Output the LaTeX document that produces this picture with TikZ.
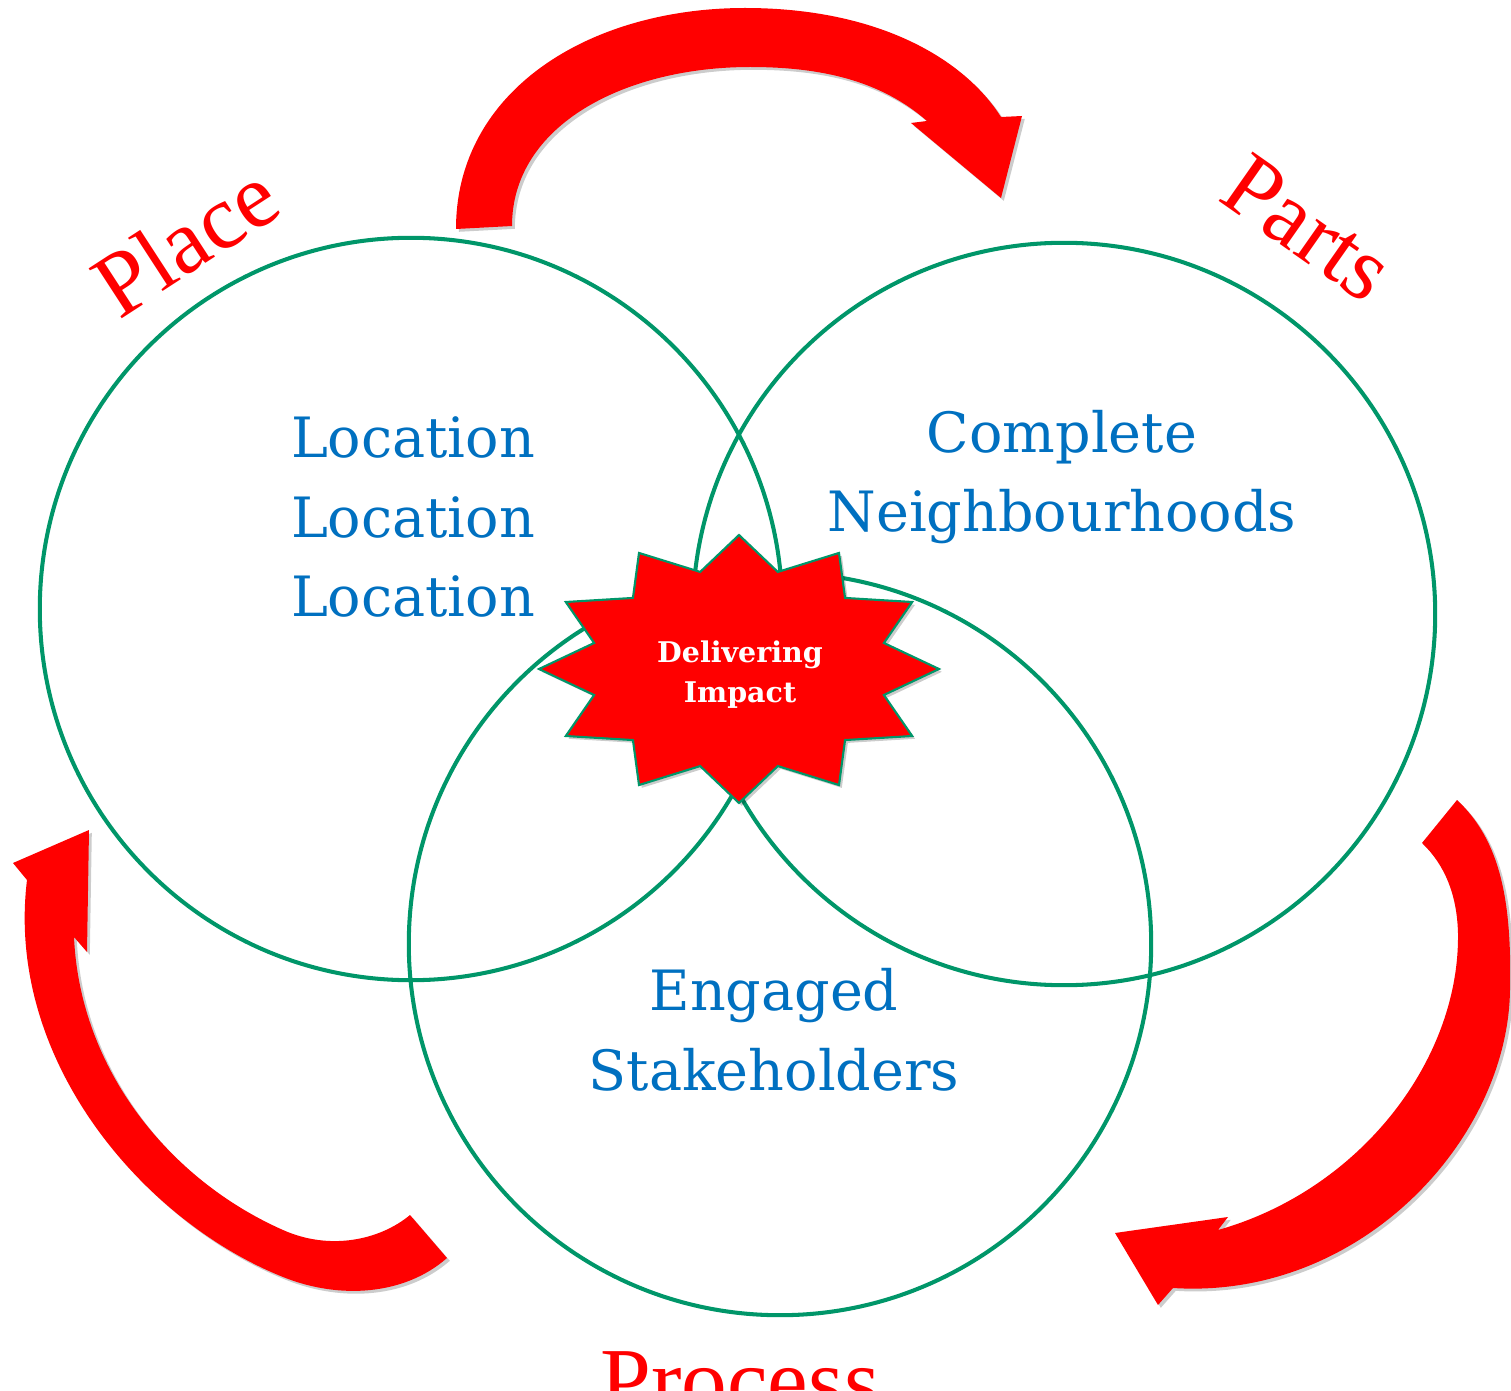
\documentclass[tikz,border=0pt]{standalone}
\usepackage{xcolor}
\usepackage{fontspec}
\setmainfont{DejaVu Serif}
\newfontfamily\labelfont{Liberation Serif}
\usepackage{tikz}

\definecolor{ringgreen}{RGB}{0,150,105}
\definecolor{textblue}{RGB}{0,112,192}

\begin{document}
\begin{tikzpicture}[
			x=0.01cm, y=-0.01cm,
			ring/.style={draw=ringgreen, line width=1.15pt, circle, minimum size=7.42cm, inner sep=0pt},
			bluetext/.style={text=textblue, font=\fontsize{15.8}{22.6}\selectfont, align=center},
			redlabel/.style={text=red, font=\labelfont\fontsize{26}{30}\selectfont},
			shade under/.style={preaction={fill=black, opacity=0.2, transform canvas={xshift=0.8pt, yshift=-0.8pt}}},
			bigarrow/.style={fill=red, shade under},
			starfill/.style={fill=red, draw=ringgreen, line width=0.6pt, shade under}
			]
			\useasboundingbox (0,0) rectangle (1511,1391);
			
			% the three circles
			\node[ring] (place) at (411,609) {};
			\node[ring] (parts) at (1064,614) {};
			\node[ring] (process) at (780,944) {};
			
			% star in the middle
			\begin{scope}[shift={(739,669)}]
				\path[starfill] (0:200 and 134)
				\foreach \a in {15,45,...,345} { -- (\a:150 and 100.5) -- (\a+15:200 and 134) } -- cycle;
			\end{scope}
			\node[text=white, font=\bfseries\fontsize{8.1}{11.3}\selectfont, align=center] (impact) at (740,675) {Delivering\\Impact};
			
			% texts in the circles
			\node[bluetext] (loc) at (413,517) {Location\\Location\\Location};
			\node[bluetext] (hoods) at (1062,477) {Complete\\Neighbourhoods};
			\node[bluetext] (stake) at (774,1030) {Engaged\\Stakeholders};
			
			% top arrow: place -> parts
			\path[bigarrow] (456,229) .. controls (456,90) and (590,8) .. (745,8)
				.. controls (880,8) and (965,60) .. (1001,117)
				-- (1022,116) -- (1001,198) -- (911,123) -- (927,121)
				.. controls (880,80) and (820,67) .. (750,67)
				.. controls (625,67) and (512,125) .. (512,226) -- cycle;
			
			% right arrow: parts -> process
			\path[bigarrow] (1457,800) .. controls (1500,840) and (1512,900) .. (1510,990)
				.. controls (1508,1140) and (1360,1300) .. (1173,1288)
				-- (1158,1305) -- (1115,1233) -- (1228,1217) -- (1218,1230)
				.. controls (1360,1190) and (1460,1060) .. (1458,933)
				.. controls (1457,895) and (1445,865) .. (1422,843) -- cycle;
			
			% left arrow: process -> place
			\path[bigarrow] (447,1258) .. controls (405,1295) and (340,1300) .. (283,1277)
				.. controls (143,1221) and (5,1060) .. (27,880)
				-- (13,863) -- (89,830) -- (87,952) -- (74,937)
				.. controls (80,1070) and (170,1180) .. (283,1230)
				.. controls (330,1251) and (380,1240) .. (410,1215) -- cycle;
			
			% labels
			\node[redlabel, rotate=33] (placelbl) at (185,240) {Place};
			\node[redlabel, rotate=-35] (partslbl) at (1308,228) {Parts};
			\node[redlabel, anchor=base] (proclbl) at (740,1411) {Process};
		\end{tikzpicture}
\end{document}
